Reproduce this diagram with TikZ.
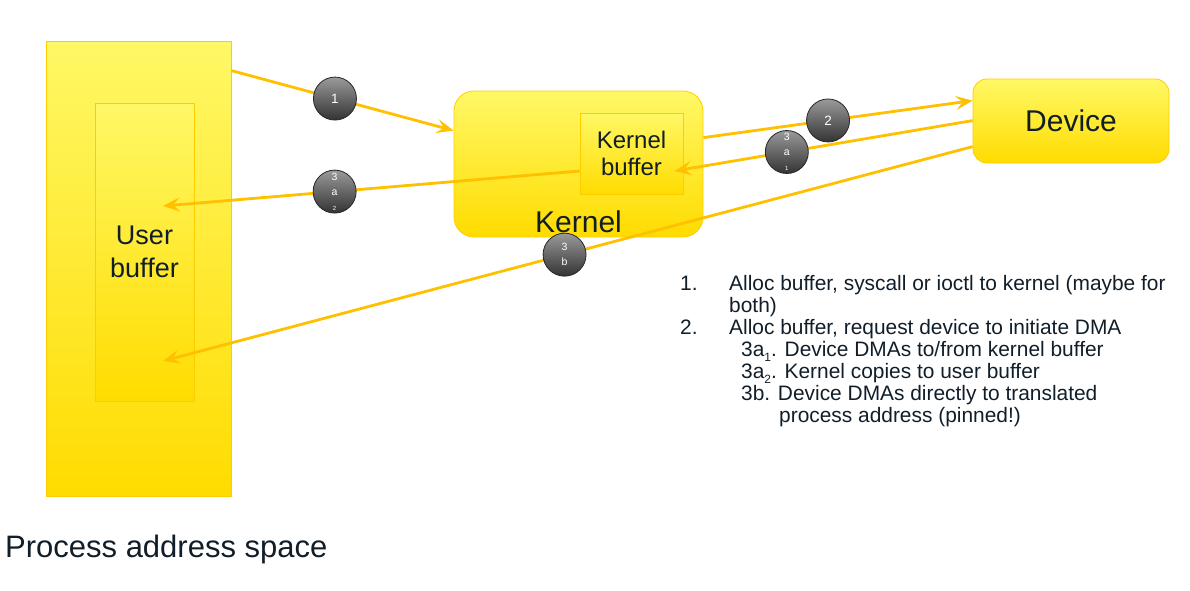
\documentclass[tikz,border=0pt]{standalone}
\usepackage{fontspec}
\setmainfont{Liberation Sans}
\usetikzlibrary{arrows.meta}

\definecolor{flowc}{HTML}{FFC000}
\definecolor{boxtop}{HTML}{FFF866}
\definecolor{boxbot}{HTML}{FFDC00}
\definecolor{boxline}{HTML}{FFCC00}
\definecolor{ink}{HTML}{111E29}
\definecolor{badgetop}{HTML}{9A9A9A}
\definecolor{badgebot}{HTML}{333333}

\newcommand{\lowsub}[1]{\raisebox{-0.5ex}{\fontsize{12}{12}\selectfont #1}}

\begin{document}
\begin{tikzpicture}[x=1pt,y=-1pt,
  yelbox/.style={draw=boxline, line width=0.8pt, top color=boxtop, bottom color=boxbot, inner sep=0pt, text=ink, align=center},
  flow/.style={draw=flowc, line width=2.8pt, -{Stealth[length=17pt,width=14pt,inset=7pt]}},
  badge/.style={circle, draw=black!85, line width=0.8pt, top color=badgetop, bottom color=badgebot, minimum size=43pt, inner sep=0pt, text=white, font=\fontsize{13.5}{13.5}\selectfont},
  stacked/.style={align=center, font=\fontsize{10.5}{15}\selectfont},
  listline/.style={inner sep=0pt, anchor=base west, text=ink, font=\fontsize{20.9}{22}\selectfont}]
\useasboundingbox (0,0) rectangle (1190,590);

% define the boxes
\node[yelbox, minimum width=185pt, minimum height=455pt] (proc) at (138.5,268.5) {};
\node[yelbox, minimum width=99pt, minimum height=298pt, font=\fontsize{27}{33}\selectfont] (ubuf) at (144.5,252) {User\\buffer};
\node[yelbox, rounded corners=20pt, minimum width=249pt, minimum height=146pt] (kernel) at (578.5,164) {};
\node[yelbox, minimum width=103pt, minimum height=81pt, font=\fontsize{24}{27}\selectfont] (kbuf) at (631.5,153.5) {Kernel\\buffer};
\node[yelbox, rounded corners=14pt, minimum width=196pt, minimum height=84pt, font=\fontsize{30}{36}\selectfont] (device) at (1071,121) {Device};

% label the boxes
\node[anchor=base, inner sep=0pt, text=ink, font=\fontsize{30}{36}\selectfont] (klabel) at ([yshift=5pt]kernel.south) {Kernel};
\node[anchor=base west, inner sep=0pt, text=ink, font=\fontsize{31}{36}\selectfont] (plabel) at (5,557) {Process address space};

% draw the steps
\draw[flow] ([yshift=-30pt]proc.north east) -- ([yshift=-40pt]kernel.north west) node[badge, pos=0.466] (b1) {1};
\draw[flow] ([yshift=-47pt]kernel.north east) -- ([yshift=-22pt]device.north west) node[badge, pos=0.463] (b2) {2};
\draw[flow] ([yshift=-42pt]device.north west) -- ([xshift=-9pt,yshift=-17.5pt]kbuf.east) node[badge, stacked, pos=0.623] (b3a1) {3\\a\\{\fontsize{6}{6}\selectfont 1}};
\draw[flow] ([yshift=-17.5pt]kbuf.west) -- ([xshift=18.5pt,yshift=46pt]ubuf.center) node[badge, stacked, pos=0.588] (b3a2) {3\\a\\{\fontsize{6}{6}\selectfont 2}};
\draw[flow] ([yshift=-68pt]device.north west) -- ([xshift=18.5pt,yshift=-109pt]ubuf.center) node[badge, stacked, pos=0.504] (b3b) {3\\b};

% the list of steps
\node[listline] (n1) at (680,290) {1.};
\node[listline] (t1) at (729,290) {Alloc buffer, syscall or ioctl to kernel (maybe for};
\node[listline] (t1b) at (729,312) {both)};
\node[listline] (n2) at (680,334) {2.};
\node[listline] (t2) at (729,334) {Alloc buffer, request device to initiate DMA};
\node[listline] (t3a1) at (741,356) {3a\lowsub{1}. Device DMAs to/from kernel buffer};
\node[listline] (t3a2) at (741,378) {3a\lowsub{2}. Kernel copies to user buffer};
\node[listline] (t3b) at (741,400) {3b. Device DMAs directly to translated};
\node[listline] (t3bb) at (779,422) {process address (pinned!)};

\end{tikzpicture}
\end{document}
